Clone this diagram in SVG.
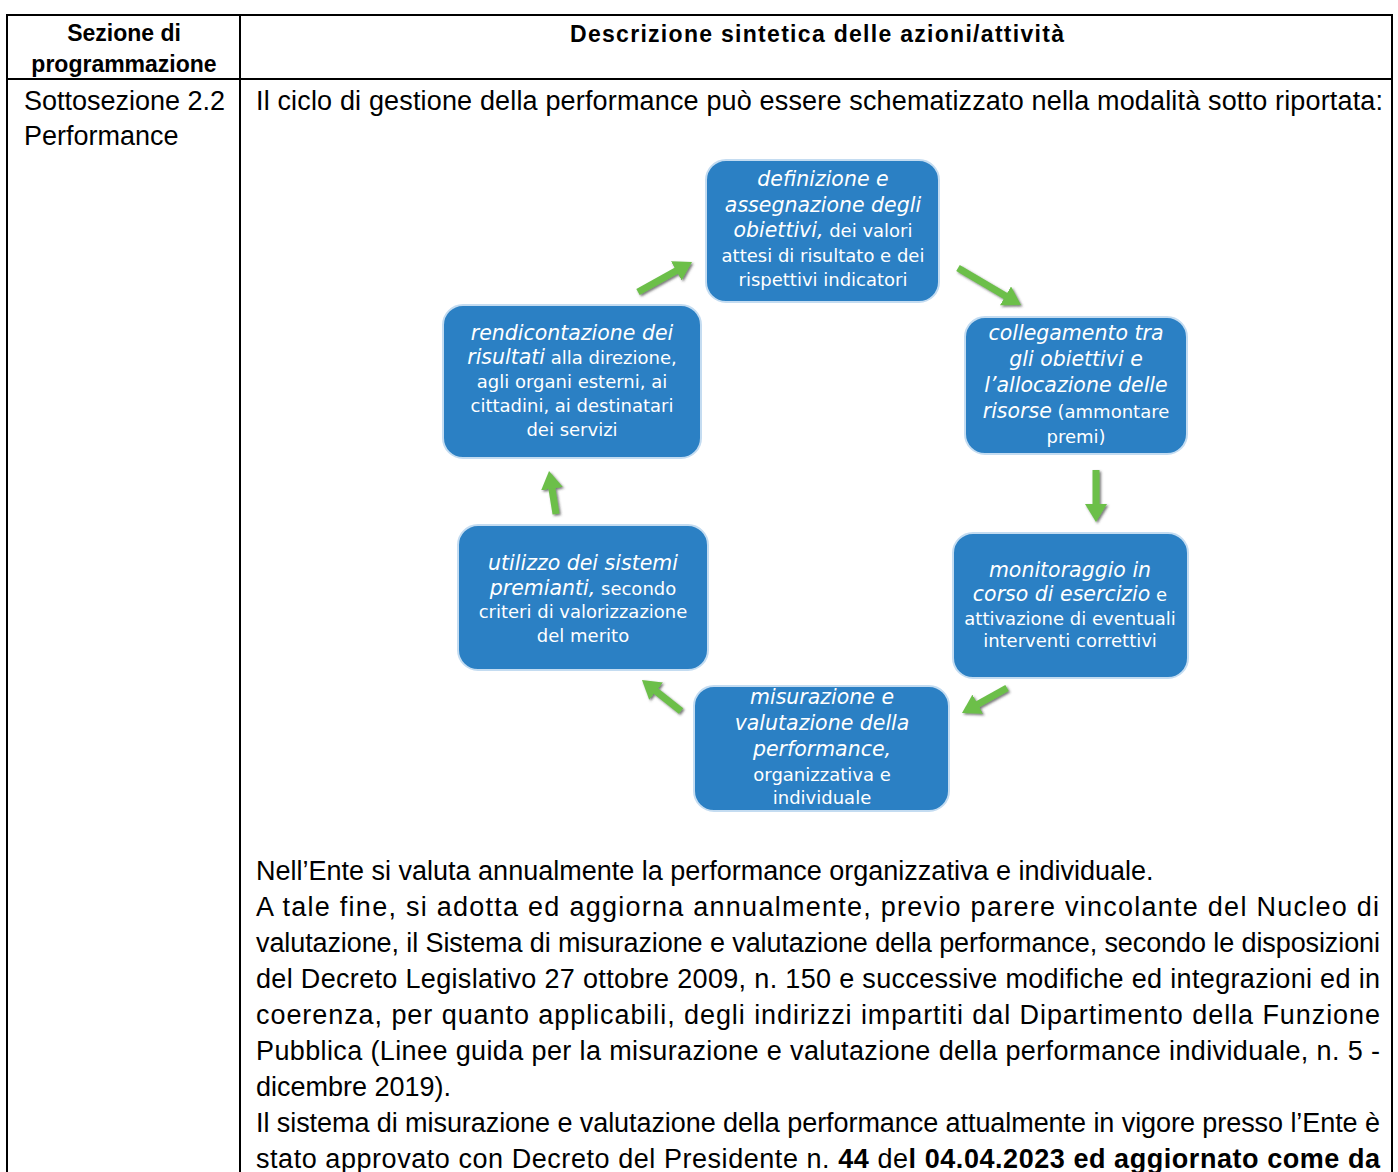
<svg xmlns="http://www.w3.org/2000/svg" width="1398" height="1172" viewBox="0 0 1398 1172">
<style>
.tl{stroke:#000;stroke-width:2;fill:none}
.th{font-family:"Liberation Sans",Arial,sans-serif;font-weight:bold;font-size:23px;fill:#000}
.tb{font-family:"Liberation Sans",Arial,sans-serif;font-size:27px;fill:#000;font-variant-ligatures:none}
.b{font-weight:bold}
.box{fill:#2b80c4;stroke:#c4dcf1;stroke-width:2}
.nt{font-family:"DejaVu Sans",Verdana,sans-serif;fill:#fff;text-anchor:middle;font-size:18px}
.i{font-style:italic;font-size:20.5px}
.ar{stroke:#6cbf4a;stroke-width:7;fill:none;marker-end:url(#ah)}
</style>
<defs>
<marker id="ah" markerUnits="userSpaceOnUse" markerWidth="18" markerHeight="22" viewBox="0 0 18 22" refX="2" refY="11" orient="auto">
<path d="M0,0 L18,11 L0,22 z" fill="#6cbf4a"/>
</marker>
<filter id="sh" x="-20%" y="-20%" width="140%" height="140%">
<feDropShadow dx="1.5" dy="1.5" stdDeviation="1" flood-color="#3a3a3a" flood-opacity="0.7"/>
</filter>
</defs>
<rect width="1398" height="1172" fill="#fff"/>
<g id="table">
<line class="tl" x1="6" y1="15" x2="1393" y2="15"/>
<line class="tl" x1="6" y1="79" x2="1393" y2="79"/>
<line class="tl" x1="7" y1="14" x2="7" y2="1172"/>
<line class="tl" x1="240" y1="14" x2="240" y2="1172"/>
<line class="tl" x1="1392" y1="14" x2="1392" y2="1172"/>
<text class="th" x="124" y="41" text-anchor="middle">Sezione di</text>
<text class="th" x="124" y="72" text-anchor="middle">programmazione</text>
<text class="th" x="570" y="42" textLength="494" lengthAdjust="spacing">Descrizione sintetica delle azioni/attività</text>
<text class="tb" x="24" y="110" textLength="201" lengthAdjust="spacing">Sottosezione 2.2</text>
<text class="tb" x="24" y="145">Performance</text>
<text class="tb" x="256" y="110" textLength="1127" lengthAdjust="spacing">Il ciclo di gestione della performance può essere schematizzato nella modalità sotto riportata:</text>
<text class="tb" x="256" y="880">Nell’Ente si valuta annualmente la performance organizzativa e individuale.</text>
<text class="tb" x="256" y="916" textLength="1123" lengthAdjust="spacing">A tale fine, si adotta ed aggiorna annualmente, previo parere vincolante del Nucleo di</text>
<text class="tb" x="256" y="952" textLength="1124" lengthAdjust="spacing">valutazione, il Sistema di misurazione e valutazione della performance, secondo le disposizioni</text>
<text class="tb" x="256" y="988" textLength="1124" lengthAdjust="spacing">del Decreto Legislativo 27 ottobre 2009, n. 150 e successive modifiche ed integrazioni ed in</text>
<text class="tb" x="256" y="1024" textLength="1124" lengthAdjust="spacing">coerenza, per quanto applicabili, degli indirizzi impartiti dal Dipartimento della Funzione</text>
<text class="tb" x="256" y="1060" textLength="1124" lengthAdjust="spacing">Pubblica (Linee guida per la misurazione e valutazione della performance individuale, n. 5 -</text>
<text class="tb" x="256" y="1096">dicembre 2019).</text>
<text class="tb" x="256" y="1132" textLength="1124" lengthAdjust="spacing">Il sistema di misurazione e valutazione della performance attualmente in vigore presso l’Ente è</text>
<text class="tb" x="256" y="1168" textLength="1124" lengthAdjust="spacing">stato approvato con Decreto del Presidente n. <tspan class="b">44</tspan> de<tspan class="b">l 04.04.2023 ed aggiornato come da</tspan></text>
</g>
<g id="connectors" filter="url(#sh)">
<line class="ar" x1="638" y1="292" x2="678" y2="269.8"/>
<line class="ar" x1="958" y1="268" x2="1007.2" y2="296.9"/>
<line class="ar" x1="1096" y1="470" x2="1096" y2="506"/>
<line class="ar" x1="1007" y1="688" x2="976" y2="705.2"/>
<line class="ar" x1="681" y1="711" x2="654.5" y2="690"/>
<line class="ar" x1="556" y1="514" x2="551.6" y2="486.8"/>
</g>
<g id="node-definizione">
<rect class="box" x="706" y="160" width="233" height="142" rx="20"/>
<text class="nt" x="823" y="186"><tspan class="i">definizione e</tspan></text>
<text class="nt" x="823" y="212"><tspan class="i">assegnazione degli</tspan></text>
<text class="nt" x="823" y="237"><tspan class="i">obiettivi,</tspan> dei valori</text>
<text class="nt" x="823" y="262">attesi di risultato e dei</text>
<text class="nt" x="823" y="286">rispettivi indicatori</text>
</g>
<g id="node-collegamento">
<rect class="box" x="965" y="317" width="222" height="137" rx="20"/>
<text class="nt" x="1076" y="340"><tspan class="i">collegamento tra</tspan></text>
<text class="nt" x="1076" y="366"><tspan class="i">gli obiettivi e</tspan></text>
<text class="nt" x="1076" y="392"><tspan class="i">l’allocazione delle</tspan></text>
<text class="nt" x="1076" y="418"><tspan class="i">risorse</tspan> (ammontare</text>
<text class="nt" x="1076" y="443">premi)</text>
</g>
<g id="node-monitoraggio">
<rect class="box" x="953" y="533" width="235" height="145" rx="20"/>
<text class="nt" x="1070" y="577"><tspan class="i">monitoraggio in</tspan></text>
<text class="nt" x="1070" y="601"><tspan class="i">corso di esercizio</tspan> e</text>
<text class="nt" x="1070" y="625">attivazione di eventuali</text>
<text class="nt" x="1070" y="647">interventi correttivi</text>
</g>
<g id="node-misurazione">
<rect class="box" x="694" y="686" width="255" height="125" rx="20"/>
<text class="nt" x="822" y="704"><tspan class="i">misurazione e</tspan></text>
<text class="nt" x="822" y="730"><tspan class="i">valutazione della</tspan></text>
<text class="nt" x="822" y="756"><tspan class="i">performance,</tspan></text>
<text class="nt" x="822" y="781">organizzativa e</text>
<text class="nt" x="822" y="804">individuale</text>
</g>
<g id="node-utilizzo">
<rect class="box" x="458" y="525" width="250" height="145" rx="20"/>
<text class="nt" x="583" y="570"><tspan class="i">utilizzo dei sistemi</tspan></text>
<text class="nt" x="583" y="595"><tspan class="i">premianti,</tspan> secondo</text>
<text class="nt" x="583" y="618">criteri di valorizzazione</text>
<text class="nt" x="583" y="642">del merito</text>
</g>
<g id="node-rendicontazione">
<rect class="box" x="443" y="305" width="258" height="153" rx="20"/>
<text class="nt" x="572" y="340"><tspan class="i">rendicontazione dei</tspan></text>
<text class="nt" x="572" y="364"><tspan class="i">risultati</tspan> alla direzione,</text>
<text class="nt" x="572" y="388">agli organi esterni, ai</text>
<text class="nt" x="572" y="412">cittadini, ai destinatari</text>
<text class="nt" x="572" y="436">dei servizi</text>
</g>
</svg>
